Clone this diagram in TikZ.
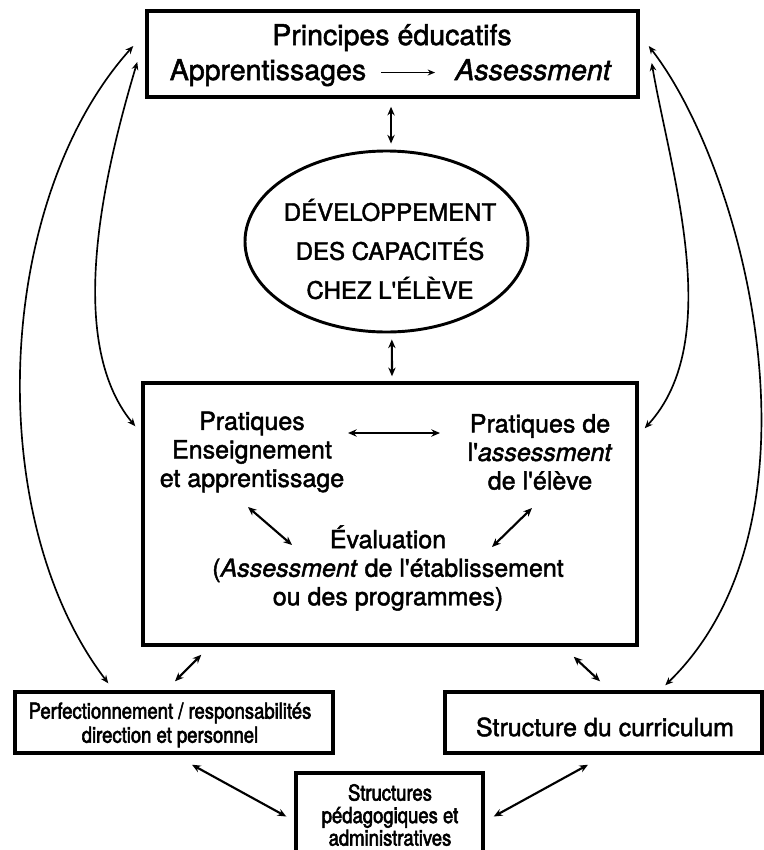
\documentclass[tikz,border=0pt]{standalone}
\usepackage{fontspec}
\setmainfont{TeX Gyre Heros}[Ligatures=TeXOff,FakeBold=1.8]
\newfontfamily\narrowfont{TeX Gyre Heros}[FakeStretch=0.84,FakeBold=2.6,Ligatures=TeXOff]
\usetikzlibrary{arrows.meta,shapes.geometric,calc}
\begin{document}
\begin{tikzpicture}[x=0.75pt,y=-0.75pt,
  box/.style={draw,line width=2.6pt,inner sep=0pt},
  txt/.style={align=center,inner sep=0pt},
  arr/.style={{Stealth[length=6.5pt,width=5.5pt]}-{Stealth[length=6.5pt,width=5.5pt]},line width=1.6pt},
  carr/.style={{Stealth[length=6pt,width=5pt]}-{Stealth[length=6pt,width=5pt]},line width=1.25pt},
  topfont/.style={font=\fontsize{21.4pt}{25.5pt}\selectfont},
  midfont/.style={font=\fontsize{18.75pt}{21.4pt}\selectfont},
  ellfont/.style={font=\fontsize{18pt}{29.25pt}\selectfont},
  nfont/.style={font=\narrowfont\fontsize{16.5pt}{18pt}\selectfont},
  sfont/.style={font=\narrowfont\fontsize{16.5pt}{16.9pt}\selectfont}]
\useasboundingbox (0,0) rectangle (764,850);

% boxes
\node[box, minimum width=368.25pt, minimum height=64.5pt] (top) at (392.5,54) {};
\node[draw, ellipse, line width=2.2pt, inner sep=0pt, minimum width=212.25pt, minimum height=135.75pt] (ell) at (386.5,241.5) {};
\node[box, minimum width=370.5pt, minimum height=196.5pt] (mid) at (390,514) {};
\node[box, minimum width=238.5pt, minimum height=45.75pt] (perf) at (174,722.5) {};
\node[box, minimum width=237.75pt, minimum height=45.75pt] (curr) at (603.5,722.5) {};
\node[box, minimum width=140.25pt, minimum height=65.25pt] (struct) at (389.5,816.5) {};

% texts
\node[txt, topfont, anchor=base] (tp1) at (392,45) {Principes éducatifs};
\node[txt, topfont, anchor=base] (appr) at (268,80) {Apprentissages};
\node[txt, topfont, anchor=base] (asse) at (533,80) {\itshape Assessment};
\node[txt, ellfont] (elltxt) at (390,249) {DÉVELOPPEMENT\\DES CAPACITÉS\\CHEZ L'ÉLÈVE};
\node[txt, midfont] (prat) at (252,452) {Pratiques\\Enseignement\\et apprentissage};
\node[txt, midfont] (pass) at (540,452) {Pratiques de\\l'\textit{assessment}\\de l'élève};
\node[txt, midfont] (eval) at (388,568) {Évaluation\\(\textit{Assessment} de l'établissement\\ou des programmes)};
\node[txt, nfont] (perftxt) at (170,725) {Perfectionnement / responsabilités\\direction et personnel};
\node[txt, font=\fontsize{18.75pt}{21pt}\selectfont] (currtxt) at (605,727) {Structure du curriculum};
\node[txt, sfont] (structtxt) at (390,815) {Structures\\pédagogiques et\\administratives};

% arrow inside top box
\draw[-{Stealth[length=5.5pt,width=4.5pt]}, line width=1.4pt]
  ([xshift=11pt,yshift=5.6pt]appr.base east) -- ([xshift=-15pt,yshift=5.6pt]asse.base west);

% vertical arrows
\draw[arr] ([xshift=-1.1pt,yshift=-6pt]top.south) -- ([xshift=3.4pt,yshift=4.5pt]ell.north);
\draw[arr] ([xshift=4pt,yshift=-4.5pt]ell.south) -- ([xshift=1.5pt,yshift=3.75pt]mid.north);

% arrows inside middle box
\coordinate (h1) at (348,433);
\coordinate (h2) at (440,433);
\coordinate (dl1) at (248,507);
\coordinate (dl2) at (292,545);
\coordinate (dr1) at (532,508);
\coordinate (dr2) at (492,547);
\draw[arr] (h1) -- (h2);
\draw[arr] (dl1) -- (dl2);
\draw[arr] (dr1) -- (dr2);

% arrows to lower boxes
\draw[arr] ([xshift=45pt,yshift=-6pt]mid.south west) -- ([xshift=0.75pt,yshift=6.75pt]perf.north);
\draw[arr] ([xshift=-48.75pt,yshift=-7.5pt]mid.south east) -- ([xshift=-2.6pt,yshift=6.75pt]curr.north);
\draw[arr] ([xshift=13.5pt,yshift=-7.5pt]perf.south) -- ([xshift=-6pt]struct.west);
\draw[arr] ([xshift=-11.6pt,yshift=-7.5pt]curr.south) -- ([xshift=6.75pt]struct.east);

% curved arrows
\draw[carr] ([xshift=-9pt,yshift=6pt]top.west) .. controls (-5,200) and (-19,516) .. ([xshift=71.25pt,yshift=5.25pt]perf.north west);
\draw[carr] ([xshift=-6pt,yshift=-6pt]top.west) .. controls (105,170) and (64,340) .. ([xshift=-4.5pt,yshift=-33.75pt]mid.north west);
\draw[carr] ([xshift=6.75pt,yshift=6pt]top.east) .. controls (745,170) and (835,520) .. ([xshift=166.5pt,yshift=3.75pt]curr.north west);
\draw[carr] ([xshift=9pt,yshift=-6.75pt]top.east) .. controls (670,170) and (726,340) .. ([xshift=4.5pt,yshift=-35.25pt]mid.north east);
\end{tikzpicture}
\end{document}
